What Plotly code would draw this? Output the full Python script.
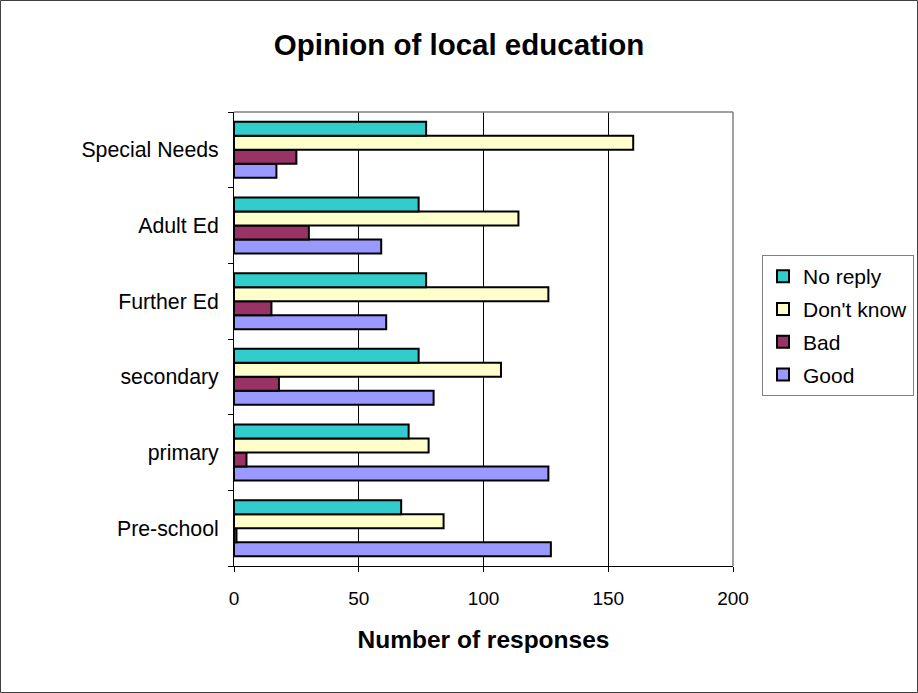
import plotly.graph_objects as go

categories = ["Pre-school", "primary", "secondary", "Further Ed", "Adult Ed", "Special Needs"]
good = [127, 126, 80, 61, 59, 17]
bad = [1, 5, 18, 15, 30, 25]
dont_know = [84, 78, 107, 126, 114, 160]
no_reply = [67, 70, 74, 77, 74, 77]
x_ticks = [0, 50, 100, 150, 200]

series = [
    ("Good", good, "#9999FF"),
    ("Bad", bad, "#993366"),
    ("Don't know", dont_know, "#FFFFCC"),
    ("No reply", no_reply, "#33CCCC"),
]

FONT = "Liberation Sans, Arial, sans-serif"

fig = go.Figure()
n = len(series)
for i, (name, vals, color) in enumerate(series):
    fig.add_trace(go.Bar(
        y=categories, x=vals, name=name, orientation="h",
        marker=dict(color=color, line=dict(color="black", width=2)),
        legendgroup=name, legendrank=n - i,
    ))

W, H = 918, 693
L, R, T, B = 234, 733, 112, 566
pw, ph = R - L, B - T

def px(x):
    return (x - L) / pw

def py(y):
    return (B - y) / ph

fig.update_layout(
    width=W, height=H,
    margin=dict(l=L, r=W - R, t=T, b=H - B, autoexpand=False),
    paper_bgcolor="white", plot_bgcolor="white",
    font=dict(family=FONT, size=21, color="black"),
    barmode="group", bargap=0.26, bargroupgap=0,
    title=dict(text="<b>Opinion of local education</b>", x=0.5, xanchor="center",
               y=1 - 45 / H, yanchor="middle", font=dict(size=29.5, family=FONT)),
    legend=dict(xref="container", yref="container", x=762 / W, y=1 - 255 / H,
                xanchor="left", yanchor="top",
                bordercolor="#808080", borderwidth=1, bgcolor="white",
                traceorder="grouped", tracegroupgap=2.5,
                font=dict(size=21, family=FONT)),
    xaxis=dict(range=[0, 200], tickvals=x_ticks, showgrid=True, gridcolor="#000000",
               gridwidth=1, zeroline=False, showline=True, linecolor="black", linewidth=1,
               ticks="outside", ticklen=5, tickcolor="black", ticklabelstandoff=10,
               tickfont=dict(size=19, family=FONT),
               title=dict(text="<b>Number of responses</b>", font=dict(size=24.5, family=FONT), standoff=23),
               fixedrange=True),
    yaxis=dict(showline=True, linecolor="black", linewidth=1, ticks="outside", ticklen=5,
               tickcolor="black", tickson="boundaries", showgrid=False, ticklabelstandoff=10,
               tickfont=dict(size=21.3, family=FONT),
               categoryorder="array", categoryarray=categories, fixedrange=True),
    shapes=[
        dict(type="line", xref="paper", yref="paper", x0=0, x1=1, y0=1, y1=1,
             line=dict(color="#808080", width=1.5)),
        dict(type="line", xref="paper", yref="paper", x0=1, x1=1, y0=0, y1=1,
             line=dict(color="#808080", width=1.5)),
        dict(type="rect", xref="paper", yref="paper", x0=px(0.5), x1=px(917.5),
             y0=py(692.5), y1=py(0.5), line=dict(color="#404040", width=1), layer="below"),
    ],
)

fig.write_html("out.html", config={"displayModeBar": False},
               post_script="document.body.style.margin='0';document.body.style.padding='0';")
